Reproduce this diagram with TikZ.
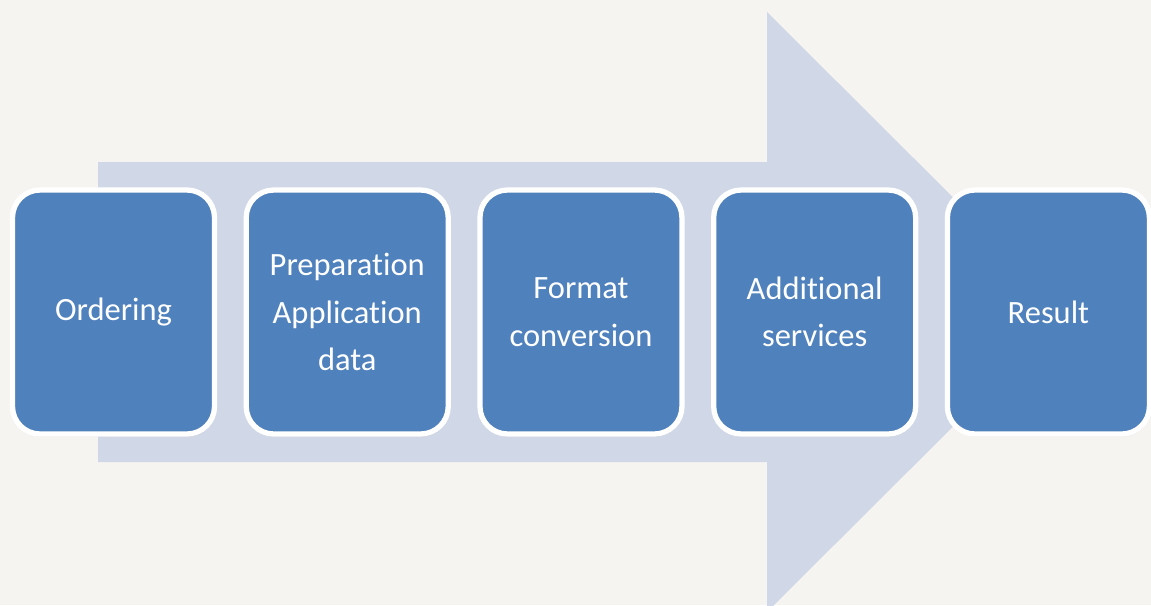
\documentclass[tikz,border=0pt]{standalone}
\usepackage{fontspec}
\setmainfont{Carlito}[Ligatures=NoCommon]
\usetikzlibrary{positioning,shadows}
\definecolor{bgcream}{RGB}{246,244,241}
\definecolor{arrowblue}{RGB}{208,216,232}
\definecolor{boxblue}{RGB}{79,129,189}
\tikzset{
	stepbox/.style={rectangle,rounded corners=0.55cm,fill=boxblue,draw=white,line width=3pt,
		minimum width=4.04cm,minimum height=4.88cm,text=white,align=center,
		font=\fontsize{18.5}{27}\selectfont,
		drop shadow={opacity=0.2,shadow xshift=0.5pt,shadow yshift=-1.5pt}}
}
\begin{document}
\begin{tikzpicture}[x=0.02cm,y=-0.02cm,node distance=0.53cm]
	%Nen
	\clip (0,0) rectangle (1151,605);
	\fill[bgcream] (0,0) rectangle (1151,605);
	%Mui ten lon
	\fill[arrowblue] (98,162) -- (767,162) -- (767,12) -- (1068,312) -- (767,612) -- (767,462) -- (98,462) -- cycle;
	%Cac buoc
	\node[stepbox] (order) at (113.5,312) {Ordering};
	\node[stepbox,right=of order] (prep) {Preparation\\Application\\data};
	\node[stepbox,right=of prep] (format) {Format\\conversion};
	\node[stepbox,right=of format] (extra) {Additional\\services};
	\node[stepbox,right=of extra] (result) {Result};
\end{tikzpicture}
\end{document}
